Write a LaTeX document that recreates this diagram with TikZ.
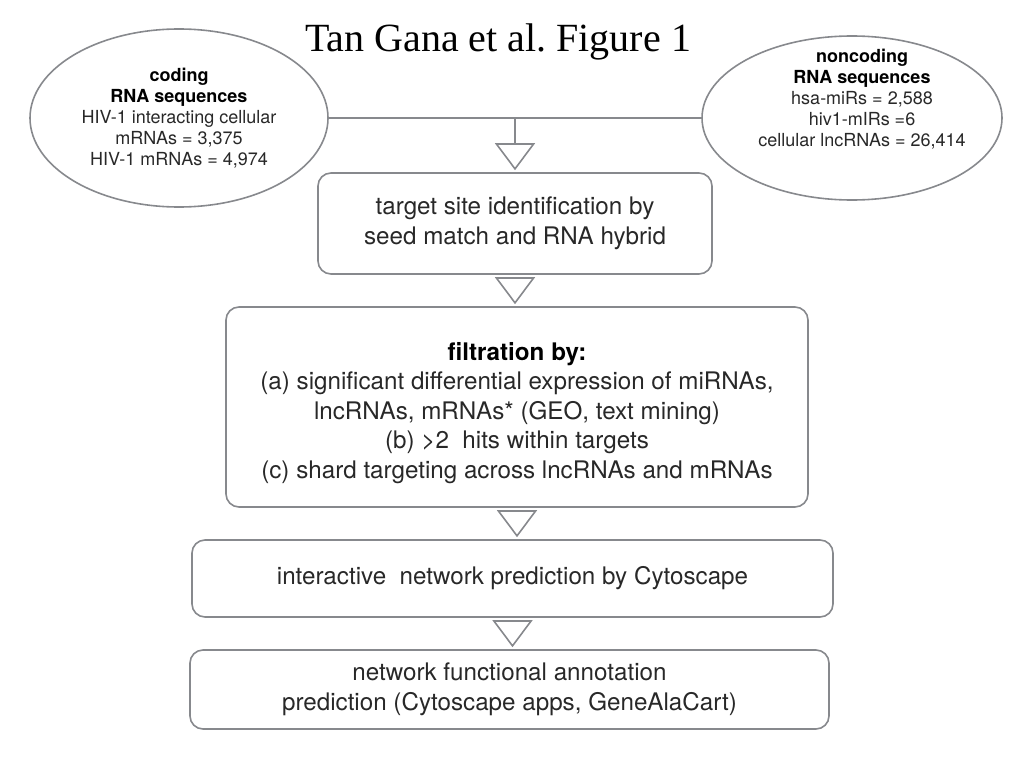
\documentclass[tikz,border=0pt]{standalone}
\usepackage{fontspec}
\setmainfont{TeX Gyre Heros}
\newfontfamily\titlefont{Liberation Serif}
\usepackage{xcolor}
\usetikzlibrary{arrows.meta,calc,shapes.geometric}
\definecolor{linegray}{RGB}{135,137,141}
\definecolor{textgray}{RGB}{40,40,40}
\frenchspacing

\begin{document}
\begin{tikzpicture}[x=1pt,y=-1pt,
		every node/.style={align=center,text=textgray},
		seqellipse/.style={ellipse,draw=linegray,line width=1.6pt,inner sep=0pt},
		stepbox/.style={rectangle,rounded corners=13pt,draw=linegray,line width=1.6pt,inner sep=0pt,font=\fontsize{24.2pt}{29.5pt}\selectfont},
		smalltext/.style={font=\fontsize{18pt}{21pt}\selectfont},
		conn/.style={draw=linegray,line width=1.6pt},
		flow/.style={conn,-{Triangle[open,length=27pt,width=40pt]},shorten >=2pt,shorten <=4pt}]
		\useasboundingbox (0,0) rectangle (1024,768);
		%
		\node[font=\titlefont\fontsize{40pt}{48pt}\selectfont,text=black] (title) at (498,42) {Tan Gana et al. Figure 1};
		%
		\node[seqellipse,smalltext,minimum width=298pt,minimum height=178pt] (coding) at (179,118)
			{\textcolor{black}{\textbf{coding}}\\\textcolor{black}{\textbf{RNA sequences}}\\HIV-1 interacting cellular\\mRNAs = 3,375\\HIV-1 mRNAs = 4,974};
		\node[seqellipse,minimum width=300pt,minimum height=164pt] (noncod) at (852,118) {};
		\node[smalltext] (noncodtext) at (862,99)
			{\textcolor{black}{\textbf{noncoding}}\\\textcolor{black}{\textbf{RNA sequences}}\\hsa-miRs = 2,588\\hiv1-mIRs =6\\cellular lncRNAs = 26,414};
		\coordinate (join) at ($(coding.east)!0.5!(noncod.west)$);
		%
		\node[stepbox,minimum width=394pt,minimum height=101pt] (target) at (515,223.5)
			{target site identification by\\seed match and RNA hybrid};
		\node[stepbox,minimum width=582pt,minimum height=200pt] (filter) at (517,407)
			{\rule{0pt}{30pt}\textcolor{black}{\textbf{filtration by:}}\\(a) significant differential expression of miRNAs,\\lncRNAs, mRNAs* (GEO, text mining)\\(b) \textgreater2\ \ hits within targets\\(c) shard targeting across lncRNAs and mRNAs};
		\node[stepbox,minimum width=641pt,minimum height=77pt] (network) at (512.5,578.5)
			{interactive\ \ network prediction by Cytoscape};
		\node[stepbox,minimum width=639pt,minimum height=79pt] (annot) at (509.5,689.5)
			{network functional annotation\\prediction (Cytoscape apps, GeneAlaCart)};
		%
		\draw[conn] (coding.east) -- (noncod.west);
		\draw[flow,shorten <=0pt] (join) -- (join |- target.north);
		\draw[flow] (target.south) -- (target.south |- filter.north);
		\draw[flow] (filter.south) -- (filter.south |- network.north);
		\draw[flow] (network.south) -- (network.south |- annot.north);
	\end{tikzpicture}
\end{document}
